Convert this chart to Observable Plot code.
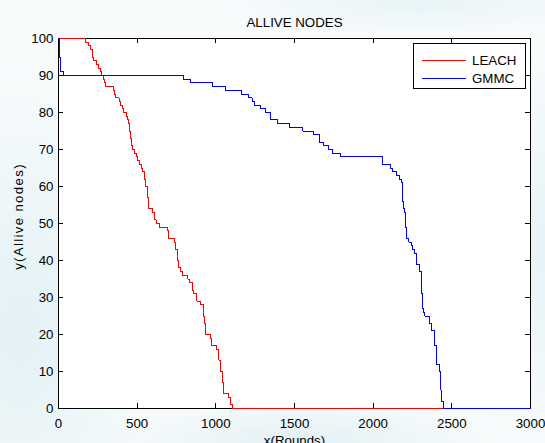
<!DOCTYPE html>
<html>
<head>
<meta charset="utf-8">
<script src="https://cdn.jsdelivr.net/npm/d3@7"></script>
<script src="https://cdn.jsdelivr.net/npm/@observablehq/plot@0.6"></script>
<style>
  html, body { margin: 0; padding: 0; }
  body {
    width: 545px; height: 443px; overflow: hidden;
    background:
      radial-gradient(ellipse 140px 260px at 20px 330px, #e3f1f5 0%, rgba(227,241,245,0) 100%),
      radial-gradient(ellipse 120px 200px at 540px 250px, #e6f3f7 0%, rgba(230,243,247,0) 100%),
      radial-gradient(ellipse 200px 40px at 300px 440px, #e3f1f5 0%, rgba(227,241,245,0) 100%),
      radial-gradient(ellipse 200px 30px at 420px 5px, #e8f4f7 0%, rgba(232,244,247,0) 100%),
      #f8fbfc;
    font-family: "Liberation Sans", Arial, Helvetica, sans-serif;
  }
  #wrap { position: relative; width: 545px; height: 443px; }
  #legend {
    position: absolute; left: 413px; top: 43px; width: 111px; height: 44px;
    background: #fff; border: 1px solid #000; font-size: 13.3px; color: #000;
  }
  .row { position: absolute; left: 8px; height: 14px; display: flex; align-items: center; }
  .sw { width: 44px; height: 0; border-top: 1px solid; margin-right: 6px; }
</style>
</head>
<body>
<div id="wrap">
  <div id="chart"></div>
  <div id="legend">
    <div class="row" style="top:9px"><div class="sw" style="border-color:#ff0000"></div><span id="lg0"></span></div>
    <div class="row" style="top:27px"><div class="sw" style="border-color:#0000ff"></div><span id="lg1"></span></div>
  </div>
</div>
<script>
// ---- data ----
const seriesNames = ["LEACH", "GMMC"];
const seriesColors = ["#ff0000", "#0000ff"];

const leachRounds = [0,170,190,205,215,225,240,255,265,275,285,295,300,350,355,365,385,395,405,415,430,440,445,450,458,465,470,480,495,505,515,525,535,545,555,565,570,575,595,610,620,640,690,700,735,745,755,765,775,790,820,835,850,860,880,905,920,925,935,965,975,1005,1020,1030,1040,1050,1080,1093,1105,3000];
const leachAlive  = [100,99,98,97,95,94,93,92,91,90,89,88,87,86,85,84,83,82,81,80,79,78,77,75,73,71,70,69,68,67,66,65,64,62,60,57,55,54,53,51,50,49,48,46,45,43,40,38,37,36,35,34,32,31,29,28,25,23,20,19,17,16,13,10,7,4,3,1,0,0];

const gmmcRounds = [0,5,10,15,30,797,839,977,1061,1163,1205,1230,1245,1284,1316,1347,1390,1468,1553,1623,1659,1686,1718,1743,1792,2062,2110,2125,2146,2169,2178,2188,2195,2201,2205,2212,2227,2242,2252,2263,2275,2295,2306,2312,2322,2329,2360,2371,2392,2403,2420,2428,2434,2445,2450,3000];
const gmmcAlive  = [100,95,92,91,90,89,88,87,86,85,84,83,82,81,80,78,77,76,75,74,72,71,70,69,68,66,65,64,63,62,61,56,54,53,49,46,45,44,43,42,39,37,31,27,26,25,23,21,17,12,10,5,2,1,0,0];

const xTicks = [0,500,1000,1500,2000,2500,3000];
const yTicks = [0,10,20,30,40,50,60,70,80,90,100];

const titleText = "ALLIVE NODES";
const xLabel = "x(Rounds)";
const yLabel = "y(Allive nodes)";

// ---- build tables ----
const leach = leachRounds.map((r, i) => ({r, n: leachAlive[i]}));
const gmmc = gmmcRounds.map((r, i) => ({r, n: gmmcAlive[i]}));
document.getElementById("lg0").textContent = seriesNames[0];
document.getElementById("lg1").textContent = seriesNames[1];

const xTickLen = 32;   // in data units (~5px)
const yTickLen = 1.4;
const fs = 13.3;

const chart = Plot.plot({
  width: 545,
  height: 443,
  marginLeft: 58,
  marginRight: 15,
  marginTop: 38,
  marginBottom: 35,
  style: {background: "transparent", fontFamily: "'Liberation Sans', Arial, Helvetica, sans-serif", fontSize: fs + "px", color: "#000", overflow: "visible"},
  x: {domain: [0, 3000], axis: null},
  y: {domain: [0, 100], axis: null},
  marks: [
    Plot.frame({fill: "#fff", stroke: "none"}),
    // inward ticks
    Plot.ruleX(xTicks, {x: d => d, y1: () => 0, y2: () => yTickLen, stroke: "#000", shapeRendering: "crispEdges"}),
    Plot.ruleX(xTicks, {x: d => d, y1: () => 100 - yTickLen, y2: () => 100, stroke: "#000", shapeRendering: "crispEdges"}),
    Plot.ruleY(yTicks, {y: d => d, x1: () => 0, x2: () => xTickLen, stroke: "#000", shapeRendering: "crispEdges"}),
    Plot.ruleY(yTicks, {y: d => d, x1: () => 3000 - xTickLen, x2: () => 3000, stroke: "#000", shapeRendering: "crispEdges"}),
    Plot.frame({stroke: "#000", strokeWidth: 1, shapeRendering: "crispEdges"}),
    Plot.lineY(leach, {x: "r", y: "n", curve: "step-after", stroke: seriesColors[0], strokeWidth: 1, shapeRendering: "crispEdges"}),
    Plot.lineY(gmmc, {x: "r", y: "n", curve: "step-after", stroke: seriesColors[1], strokeWidth: 1, shapeRendering: "crispEdges"}),
    // tick labels
    Plot.text(xTicks, {x: d => d, y: () => 0, text: d => String(d), dy: 15, fontSize: fs, fill: "#000"}),
    Plot.text(yTicks, {x: () => 0, y: d => d, text: d => String(d), dx: -5, textAnchor: "end", fontSize: fs, fill: "#000"}),
    // title and axis labels
    Plot.text([titleText], {frameAnchor: "top", text: d => d, dy: -16, lineAnchor: "middle", textAnchor: "middle", fontSize: fs, fill: "#000"}),
    Plot.text([xLabel], {frameAnchor: "bottom", text: d => d, dy: 27, lineAnchor: "top", textAnchor: "middle", fontSize: fs, fill: "#000"}),
    Plot.text([yLabel], {frameAnchor: "left", text: d => d, dx: -40, dy: -7, rotate: -90, lineAnchor: "middle", textAnchor: "middle", fontSize: fs, fill: "#000"})
  ]
});
d3.select(chart).selectAll("text").filter(function() { return this.textContent === yLabel; })
  .attr("letter-spacing", "1.3px");
document.getElementById("chart").appendChild(chart);
</script>
</body>
</html>
